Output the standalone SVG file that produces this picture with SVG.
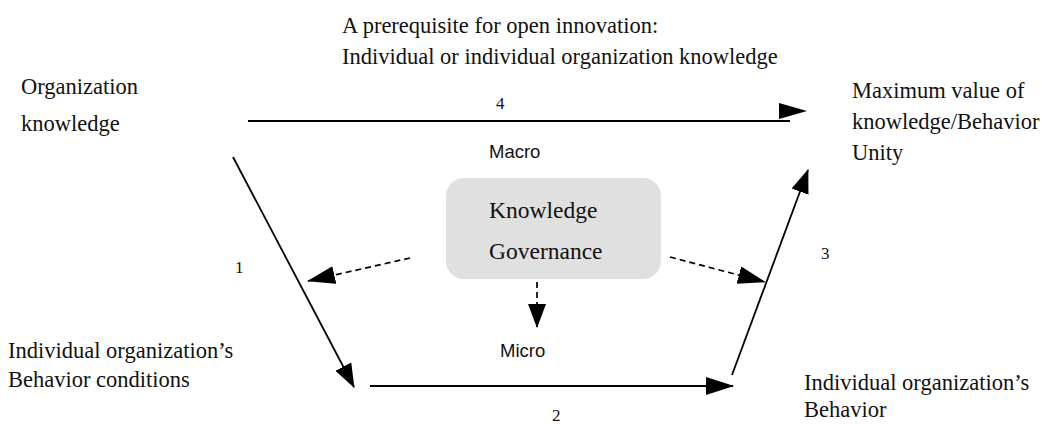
<svg xmlns="http://www.w3.org/2000/svg" width="1050" height="424" viewBox="0 0 1050 424">
  <style>
    .serif { font-family: "Liberation Serif", "Times New Roman", serif; fill: #111; }
    .lbl { font-size: 22.5px; }
    .num { font-size: 17px; }
    .sans { font-family: "Liberation Sans", Arial, sans-serif; font-size: 18.5px; fill: #111; }
    .flow { stroke: #000; stroke-width: 1.8; fill: none; }
    .dash { stroke: #000; stroke-width: 1.7; fill: none; stroke-dasharray: 6 4; }
  </style>
  <defs>
    <marker id="head" markerUnits="userSpaceOnUse" markerWidth="28" markerHeight="18" refX="27" refY="9" orient="auto">
      <path d="M0,0 L28,9 L0,18 Z" fill="#000"/>
    </marker>
    <marker id="headS" markerUnits="userSpaceOnUse" markerWidth="24" markerHeight="20" refX="23" refY="10" orient="auto">
      <path d="M0,1 L24,10 L0,19 Z" fill="#000"/>
    </marker>
  </defs>

  <rect width="1050" height="424" fill="#fff"/>

  <!-- heading -->
  <g id="prerequisite">
    <text class="serif lbl" x="342" y="33">A prerequisite for open innovation:</text>
    <text class="serif lbl" x="342" y="64">Individual or individual organization knowledge</text>
  </g>

  <g id="org-knowledge">
    <text class="serif lbl" x="21" y="94">Organization</text>
    <text class="serif lbl" x="21" y="131">knowledge</text>
  </g>

  <g id="max-value">
    <text class="serif lbl" x="852" y="98">Maximum value of</text>
    <text class="serif lbl" x="852" y="129">knowledge/Behavior</text>
    <text class="serif lbl" x="852" y="160">Unity</text>
  </g>

  <g id="behavior-conditions">
    <text class="serif lbl" x="8" y="358">Individual organization’s</text>
    <text class="serif lbl" x="8" y="387">Behavior conditions</text>
  </g>

  <g id="behavior">
    <text class="serif lbl" x="804" y="390">Individual organization’s</text>
    <text class="serif lbl" x="804" y="417">Behavior</text>
  </g>

  <g id="governance">
    <rect x="446" y="178" width="215" height="101" rx="18" ry="18" fill="#e0e0e0"/>
    <text class="serif" font-size="23.5" x="489" y="218">Knowledge</text>
    <text class="serif" font-size="23.5" x="489" y="259">Governance</text>
  </g>

  <g id="levels">
    <text class="sans" x="489" y="158">Macro</text>
    <text class="sans" x="500" y="357">Micro</text>
  </g>

  <!-- connectors -->
  <g id="connectors">
    <!-- step 4: head sits slightly above the shaft -->
    <path class="flow" d="M248,121 H790"/>
    <path d="M779,103 L807,111 L779,119 Z" fill="#000"/>
    <line class="flow" x1="233" y1="157" x2="354" y2="387" marker-end="url(#headS)"/>
    <line class="flow" x1="370" y1="386" x2="733" y2="386" marker-end="url(#head)"/>
    <line class="flow" x1="732" y1="375" x2="808" y2="170" marker-end="url(#headS)"/>
    <line class="dash" x1="410" y1="258" x2="308" y2="281" marker-end="url(#head)"/>
    <line class="dash" x1="537" y1="282" x2="537" y2="327" marker-end="url(#headS)"/>
    <line class="dash" x1="670" y1="257" x2="765" y2="282" marker-end="url(#head)"/>
  </g>

  <g id="step-numbers">
    <text class="serif num" x="496" y="109">4</text>
    <text class="serif num" x="235" y="273">1</text>
    <text class="serif num" x="552" y="421">2</text>
    <text class="serif num" x="821" y="259">3</text>
  </g>
</svg>
